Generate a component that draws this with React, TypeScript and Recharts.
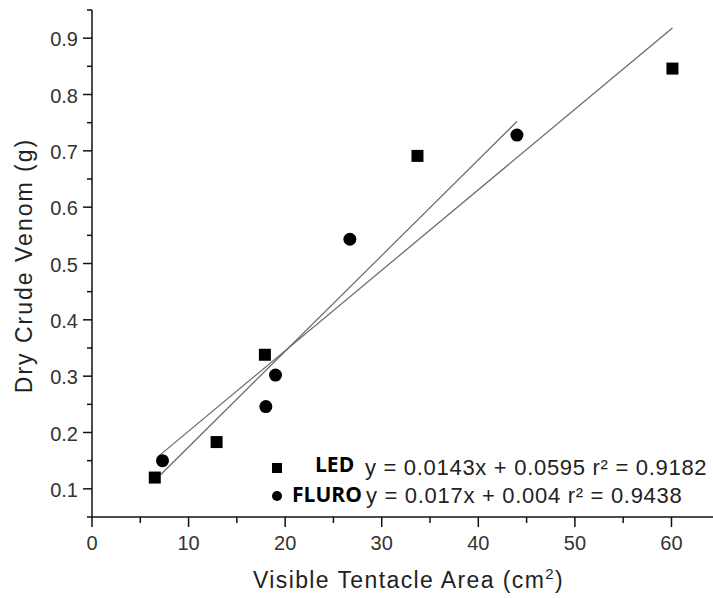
import { ScatterChart, Scatter, XAxis, YAxis, Label } from 'recharts';

// LED lighting (squares)
const ledArea = [6.5, 12.9, 17.9, 33.7, 60.1];
const ledVenom = [0.12, 0.183, 0.338, 0.691, 0.846];
// FLURO lighting (circles)
const fluroArea = [7.3, 18.0, 19.0, 26.7, 44.0];
const fluroVenom = [0.15, 0.246, 0.302, 0.543, 0.728];

// linear fit end points
const ledFitArea = [6.9, 60.1];
const ledFitVenom = [0.158, 0.918];
const fluroFitArea = [7.1, 44.0];
const fluroFitVenom = [0.125, 0.752];

const xTicks = [0, 5, 10, 15, 20, 25, 30, 35, 40, 45, 50, 55, 60];
const yTicks = [0.05, 0.1, 0.15, 0.2, 0.25, 0.3, 0.35, 0.4, 0.45, 0.5, 0.55, 0.6, 0.65, 0.7, 0.75, 0.8, 0.85, 0.9, 0.95];

const ledLabel = 'LED';
const ledEquation = 'y = 0.0143x + 0.0595 r\u00B2 = 0.9182';
const fluroLabel = 'FLURO';
const fluroEquation = 'y = 0.017x + 0.004 r\u00B2 = 0.9438';

const toPoints = (xs: number[], ys: number[]) => xs.map((x, i) => ({ x, y: ys[i] }));

const SANS = '"Liberation Sans", Arial, sans-serif';
const AXIS = '#111';

const renderYTick = (props: any) => {
  const { x, y, payload } = props;
  const v = payload.value as number;
  const major = Math.round(v * 100) % 10 === 0;
  return (
    <g>
      <line x1={x - (major ? 9 : 5)} x2={x} y1={y} y2={y} stroke={AXIS} strokeWidth={1.5} />
      {major && (
        <text x={x - 14} y={y + 8} textAnchor="end" fontSize={20} fill="#333" fontFamily={SANS}>
          {v.toFixed(1)}
        </text>
      )}
    </g>
  );
};

const renderXTick = (props: any) => {
  const { x, y, payload } = props;
  const v = payload.value as number;
  const major = v % 10 === 0;
  return (
    <g>
      <line x1={x} x2={x} y1={y} y2={y + (major ? 10 : 6)} stroke={AXIS} strokeWidth={1.5} />
      {major && (
        <text x={x} y={y + 33} textAnchor="middle" fontSize={20} fill="#333" fontFamily={SANS}>
          {v}
        </text>
      )}
    </g>
  );
};

const renderXLabel = (props: any) => {
  const vb = props.viewBox || { x: 92, y: 517, width: 621, height: 81 };
  return (
    <text x={vb.x + vb.width / 2 + 6} y={vb.y + 71} textAnchor="middle" fontSize={23} letterSpacing={1.4} fill="#222" fontFamily={SANS}>
      Visible Tentacle Area (cm
      <tspan fontSize={15} dy={-9}>2</tspan>
      <tspan dy={9}>)</tspan>
    </text>
  );
};

const renderYLabel = (props: any) => {
  const vb = props.viewBox || { x: 0, y: 10, width: 92, height: 507 };
  const cx = vb.x + 32;
  const cy = vb.y + vb.height / 2 + 2;
  return (
    <text x={cx} y={cy} transform={`rotate(-90 ${cx} ${cy})`} textAnchor="middle" fontSize={23} letterSpacing={2} fill="#222" fontFamily={SANS}>
      Dry Crude Venom (g)
    </text>
  );
};

const squareShape = (props: any) => <rect x={props.cx - 6} y={props.cy - 6} width={12} height={12} fill="#000" />;
const circleShape = (props: any) => <circle cx={props.cx} cy={props.cy} r={6.5} fill="#000" />;
const noShape = () => <g />;

export default function App() {
  return (
    <div style={{ position: 'absolute', left: 0, top: 0, width: 713, height: 598, background: '#fff' }}>
      <ScatterChart width={713} height={598} margin={{ top: 10, right: 0, bottom: 0, left: 0 }}>
        <XAxis
          type="number"
          dataKey="x"
          domain={[0, 64.3]}
          allowDataOverflow
          ticks={xTicks}
          interval={0}
          height={81}
          tickSize={0}
          tickMargin={0}
          tickLine={false}
          axisLine={{ stroke: AXIS, strokeWidth: 1.5 }}
          tick={renderXTick}
        >
          <Label content={renderXLabel} />
        </XAxis>
        <YAxis
          type="number"
          dataKey="y"
          domain={[0.05, 0.95]}
          allowDataOverflow
          ticks={yTicks}
          interval={0}
          width={92}
          tickSize={0}
          tickMargin={0}
          tickLine={false}
          axisLine={{ stroke: AXIS, strokeWidth: 1.5 }}
          tick={renderYTick}
        >
          <Label content={renderYLabel} />
        </YAxis>
        <Scatter
          data={toPoints(ledFitArea, ledFitVenom)}
          line={{ stroke: '#666', strokeWidth: 1.2 }}
          shape={noShape}
          isAnimationActive={false}
        />
        <Scatter
          data={toPoints(fluroFitArea, fluroFitVenom)}
          line={{ stroke: '#666', strokeWidth: 1.2 }}
          shape={noShape}
          isAnimationActive={false}
        />
        <Scatter data={toPoints(ledArea, ledVenom)} shape={squareShape} isAnimationActive={false} />
        <Scatter data={toPoints(fluroArea, fluroVenom)} shape={circleShape} isAnimationActive={false} />
      </ScatterChart>
      <svg width={713} height={598} style={{ position: 'absolute', left: 0, top: 0, pointerEvents: 'none' }}>
        <rect x={272} y={463} width={10} height={10} fill="#000" />
        <text x={315} y={472} fontSize={21} fontWeight="bold" fontFamily='"Open Sans", sans-serif' fill="#000">{ledLabel}</text>
        <text x={365} y={475} fontSize={22} letterSpacing={0.7} fontFamily={SANS} fill="#222">{ledEquation}</text>
        <circle cx={277} cy={496} r={5} fill="#000" />
        <text x={292} y={502} fontSize={21} fontWeight="bold" fontFamily='"Open Sans", sans-serif' fill="#000">{fluroLabel}</text>
        <text x={366} y={503} fontSize={22} letterSpacing={0.7} fontFamily={SANS} fill="#222">{fluroEquation}</text>
      </svg>
    </div>
  );
}
